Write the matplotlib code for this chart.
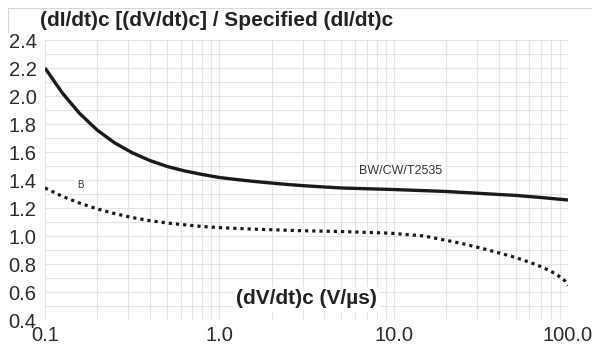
import matplotlib.pyplot as plt
from matplotlib.lines import Line2D
from matplotlib.ticker import FixedLocator, LogLocator, MultipleLocator, NullFormatter

plt.rcParams['font.family'] = ['Liberation Sans', 'DejaVu Sans']

# dV/dt (V/us) sample points, curve BW/CW/T2535
dvdt_bw = [0.1, 0.126, 0.158, 0.2, 0.251, 0.316, 0.398, 0.501, 0.631, 0.794,
           1.0, 1.26, 1.58, 2.0, 2.51, 3.16, 5, 10, 20, 36, 50, 70, 100]
ratio_bw = [2.20, 2.02, 1.875, 1.755, 1.665, 1.595, 1.54, 1.497, 1.465, 1.44,
            1.418, 1.403, 1.39, 1.378, 1.367, 1.358, 1.343, 1.332, 1.318, 1.30,
            1.29, 1.275, 1.257]

# curve B
dvdt_b = [0.1, 0.126, 0.158, 0.2, 0.251, 0.316, 0.398, 0.501, 0.631, 0.794, 1.0,
          1.5, 2.9, 5, 9.6, 14.9, 18.6, 24.3, 31.6, 41.2, 47.0, 53.7, 61.2, 70.0,
          79.8, 85.3, 91.2, 96.1, 100]
ratio_b = [1.343, 1.283, 1.235, 1.193, 1.16, 1.132, 1.11, 1.093, 1.08, 1.068, 1.06,
           1.05, 1.038, 1.032, 1.02, 1.0, 0.977, 0.948, 0.914, 0.876, 0.856, 0.834,
           0.809, 0.781, 0.748, 0.727, 0.703, 0.679, 0.646]

xticks = [0.1, 1, 10, 100]
xtick_labels = ['0.1', '1.0', '10.0', '100.0']
yticks = [0.4, 0.6, 0.8, 1.0, 1.2, 1.4, 1.6, 1.8, 2.0, 2.2, 2.4]

fig = plt.figure(figsize=(5.92, 3.49), dpi=100)
ax = fig.add_axes([45 / 592, 1 - 320 / 349, 523 / 592, 280 / 349])

ax.plot(dvdt_bw, ratio_bw, color='#1a1a1a', lw=2.4, solid_capstyle='butt',
        solid_joinstyle='round', zorder=3)
ax.plot(dvdt_b, ratio_b, color='#1a1a1a', lw=2.3, linestyle=(0, (1, 1.25)),
        dash_capstyle='butt', zorder=3)

ax.set_xscale('log')
ax.set_xlim(0.1, 100)
ax.set_ylim(0.4, 2.4)

ax.xaxis.set_major_locator(FixedLocator(xticks))
ax.set_xticklabels(xtick_labels)
ax.xaxis.set_minor_locator(LogLocator(base=10, subs=range(2, 10)))
ax.xaxis.set_minor_formatter(NullFormatter())
ax.set_yticks(yticks)
ax.set_yticklabels([f'{v:.1f}' for v in yticks])
ax.yaxis.set_minor_locator(MultipleLocator(0.1))

ax.grid(which='both', color='#e4e4e4', lw=0.8)
ax.tick_params(which='both', length=0, labelsize=14.5, colors='#2a2a2a')
ax.tick_params(axis='x', pad=4)
ax.tick_params(axis='y', pad=6)
for s in ax.spines.values():
    s.set_visible(False)

# curve labels
ax.text(0.159, 1.364, 'B', fontsize=7, ha='center', va='center', color='#333333',
        bbox=dict(facecolor='white', edgecolor='none', pad=1.5))
ax.text(11, 1.464, 'BW/CW/T2535', fontsize=9, ha='center', va='center',
        color='#333333', bbox=dict(facecolor='white', edgecolor='none', pad=2))
ax.text(0.5, 0.075, '(dV/dt)c (V/µs)', transform=ax.transAxes, fontsize=15,
        fontweight='bold', ha='center', va='center', color='#222222',
        bbox=dict(facecolor='white', edgecolor='none', pad=2))

fig.text(40 / 592, 1 - 21 / 349, '(dI/dt)c [(dV/dt)c] / Specified (dI/dt)c',
         fontsize=15, fontweight='bold', ha='left', va='center', color='#222222')

# thin frame at the top left
fig.add_artist(Line2D([8 / 592, 1], [1 - 8 / 349, 1 - 8 / 349],
                      color='#d8d8d8', lw=0.8))
fig.add_artist(Line2D([8 / 592, 8 / 592], [1 - 8 / 349, 1 - 32 / 349],
                      color='#d8d8d8', lw=0.8))

fig.savefig('out.png', dpi=100)
